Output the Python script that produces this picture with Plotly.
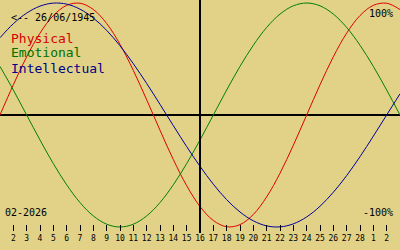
import plotly.graph_objects as go

# Day labels: Feb 1 .. Mar 3 2026
day_labels = [str(d) for d in range(1, 29)] + ["1", "2", "3"]
today_label = "16"
birth_text = "<-- 26/06/1945"
month_text = "02-2026"

physical = [0.000, 0.270, 0.520, 0.731, 0.888, 0.979, 0.998, 0.942, 0.817, 0.631,
            0.398, 0.136, -0.136, -0.398, -0.631, -0.817, -0.942, -0.998, -0.979, -0.888,
            -0.731, -0.520, -0.270, 0.000, 0.270, 0.520, 0.731, 0.888, 0.979, 0.998, 0.942]
emotional = [0.434, 0.223, 0.000, -0.223, -0.434, -0.623, -0.782, -0.901, -0.975, -1.000,
             -0.975, -0.901, -0.782, -0.623, -0.434, -0.223, 0.000, 0.223, 0.434, 0.623,
             0.782, 0.901, 0.975, 1.000, 0.975, 0.901, 0.782, 0.623, 0.434, 0.223, 0.000]
intellectual = [0.690, 0.815, 0.910, 0.972, 0.999, 0.990, 0.945, 0.866, 0.756, 0.618,
                0.458, 0.282, 0.095, -0.095, -0.282, -0.458, -0.618, -0.756, -0.866, -0.945,
                -0.990, -0.999, -0.972, -0.910, -0.815, -0.690, -0.541, -0.372, -0.189, 0.000, 0.189]

series_names = ["Physical", "Emotional", "Intellectual"]
series_colors = ["#E00000", "#008000", "#000098"]
text_colors = ["#D80000", "#007000", "#000088"]

BG = "#E1D287"
x = list(range(len(day_labels)))
today_idx = day_labels.index(today_label)

fig = go.Figure()
for vals, col, name in zip([physical, emotional, intellectual], series_colors, series_names):
    fig.add_trace(go.Scatter(x=x, y=vals, mode="lines", name=name,
                             line=dict(color=col, width=1, shape="spline"),
                             hoverinfo="skip"))

tickvals = x[1:-1]
ticktext = day_labels[1:-1]

fig.update_layout(
    width=400, height=250,
    margin=dict(l=0, r=0, t=0, b=0),
    paper_bgcolor=BG, plot_bgcolor=BG,
    showlegend=False,
    xaxis=dict(range=[0, len(day_labels) - 1], anchor="free", position=(250 - 224) / 250,
               tickmode="array", tickvals=tickvals, ticktext=ticktext,
               ticks="outside", ticklen=6, tickwidth=1, tickcolor="black",
               showgrid=False, zeroline=False, showline=False,
               tickfont=dict(family="DejaVu Sans Mono", size=8, color="black")),
    yaxis=dict(range=[-1.2054, 1.0268], showticklabels=False, showgrid=False,
               zeroline=True, zerolinecolor="black", zerolinewidth=1.5,
               showline=False, ticks=""),
)

fig.add_shape(type="line", xref="x", yref="paper", x0=today_idx, x1=today_idx,
              y0=(250 - 233) / 250, y1=1, line=dict(color="black", width=2))

def ann(text, px, py, color, size, xanchor="left"):
    fig.add_annotation(text=text, xref="paper", yref="paper",
                       x=px / 400, y=1 - py / 250, xanchor=xanchor, yanchor="middle",
                       showarrow=False, borderpad=0,
                       font=dict(family="DejaVu Sans Mono", size=size, color=color))

ann(birth_text, 10, 17, "black", 10)
for i, (nm, c) in enumerate(zip(series_names, text_colors)):
    ann(nm, 10, 38 + 15 * i, c, 13)
ann("100%", 394, 13, "black", 10, xanchor="right")
ann("-100%", 394, 212, "black", 10, xanchor="right")
ann(month_text, 4, 212, "black", 10)

fig.write_html("out.html")
